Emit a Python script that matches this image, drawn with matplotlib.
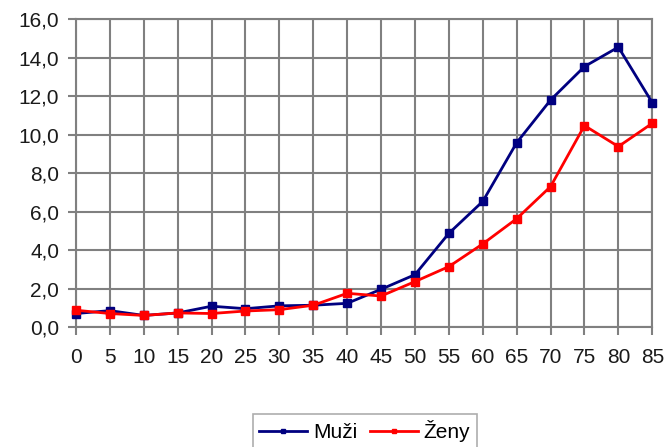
import numpy as np
import matplotlib.pyplot as plt
import matplotlib as mpl
from matplotlib.ticker import FuncFormatter

mpl.style.use('default')
plt.rcParams['font.family'] = ['Liberation Sans', 'DejaVu Sans']

# age groups
vek = [0, 5, 10, 15, 20, 25, 30, 35, 40, 45, 50, 55, 60, 65, 70, 75, 80, 85]
muzi = [0.7, 0.85, 0.6, 0.73, 1.08, 0.95, 1.1, 1.13, 1.23, 1.96, 2.72, 4.87,
        6.53, 9.58, 11.8, 13.54, 14.55, 11.66]
zeny = [0.87, 0.7, 0.6, 0.73, 0.7, 0.83, 0.9, 1.13, 1.75, 1.61, 2.36, 3.14,
        4.32, 5.63, 7.3, 10.47, 9.38, 10.59]
yticks = np.arange(0, 17, 2)

fig = plt.figure(figsize=(6.69, 4.47), dpi=100)
ax = fig.add_axes([0.1136, 0.2685, 0.975 - 0.1136, 0.957 - 0.2685])

grid_c = '#808080'
ax.plot(vek, muzi, color='#000080', lw=2, marker='s', ms=6, label='Muži', clip_on=False, zorder=3)
ax.plot(vek, zeny, color='#ff0000', lw=2, marker='s', ms=6, label='Ženy', clip_on=False, zorder=3)

ax.set_xlim(0, 85)
ax.set_ylim(0, 16)
ax.set_xticks(vek)
ax.set_yticks(yticks)
ax.yaxis.set_major_formatter(FuncFormatter(lambda v, p: f'{v:.1f}'.replace('.', ',')))
ax.grid(True, color=grid_c, lw=1.5)
ax.set_axisbelow(True)
for s in ax.spines.values():
    s.set_color(grid_c)
    s.set_linewidth(1.5)
ax.tick_params(axis='both', colors=grid_c, labelcolor='#1a1a1a', width=1.5,
               labelsize=15, length=6)
ax.tick_params(axis='x', pad=9)
ax.tick_params(axis='y', pad=6)

leg = fig.legend(loc='upper center', bbox_to_anchor=(0.545, 0.097), ncol=2,
                 fontsize=15, frameon=True, fancybox=False, edgecolor='#999999',
                 handlelength=2.3, handletextpad=0.3, columnspacing=0.6,
                 borderpad=0.3, markerscale=0.55)
leg.get_frame().set_linewidth(1.2)

fig.savefig('out.png', dpi=100)
